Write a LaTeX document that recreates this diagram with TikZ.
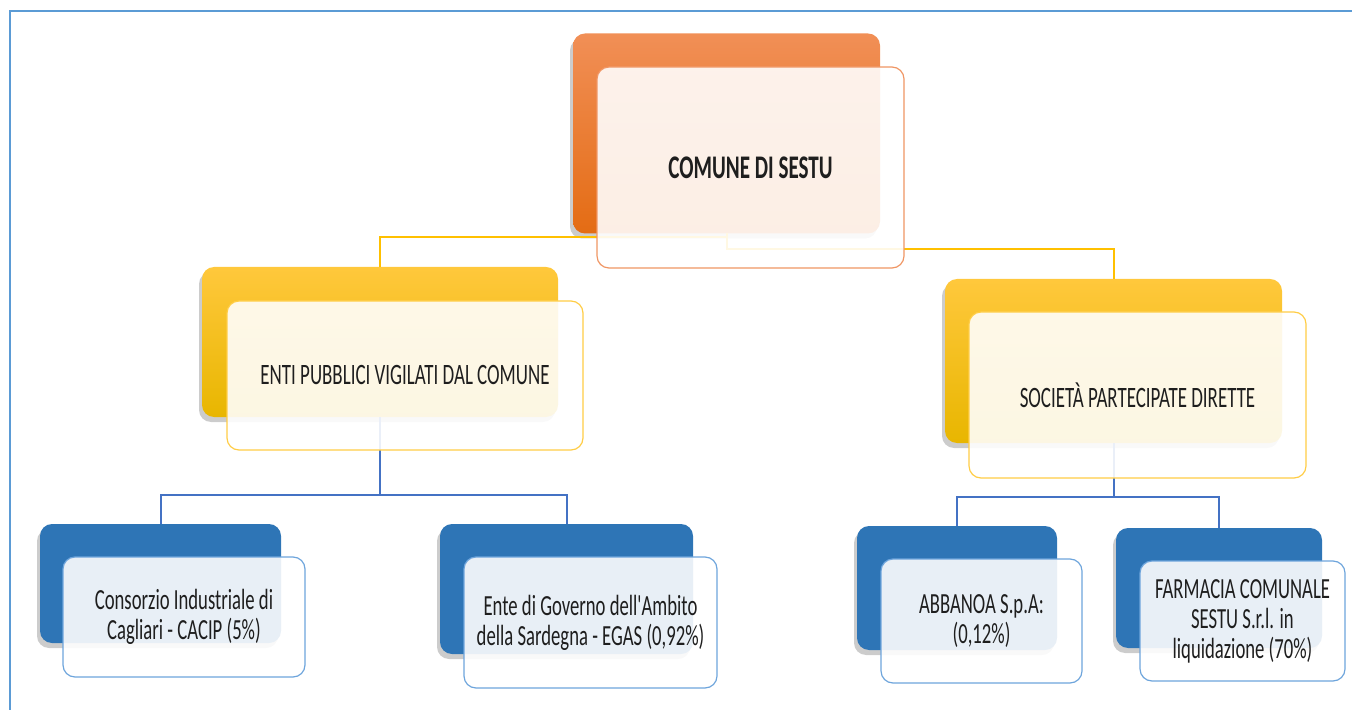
\documentclass[tikz,border=0pt]{standalone}
\usepackage{fontspec}
\newfontfamily\boxfont[FakeStretch=0.64]{Carlito}
\usetikzlibrary{shadows}

\definecolor{frameblue}{RGB}{91,155,213}
\definecolor{linkgold}{RGB}{255,192,0}
\definecolor{linkblue}{RGB}{68,114,196}
\definecolor{orangetop}{RGB}{241,143,86}
\definecolor{orangemid}{RGB}{245,125,35}
\definecolor{orangebot}{RGB}{228,108,20}
\definecolor{orangeline}{RGB}{240,150,100}
\definecolor{goldtop}{RGB}{255,200,60}
\definecolor{goldmid}{RGB}{255,195,0}
\definecolor{goldbot}{RGB}{232,182,0}
\definecolor{goldline}{RGB}{255,205,70}
\definecolor{boxblue}{RGB}{46,117,182}
\definecolor{blueline}{RGB}{110,165,220}
\definecolor{textgray}{RGB}{30,30,30}

\begin{document}
\begin{tikzpicture}[x=0.5pt, y=-0.5pt,
    box/.style={rectangle, rounded corners=6pt, inner sep=0pt, outer sep=0pt},
    backbox/.style={box, drop shadow={shadow xshift=-1.5pt, shadow yshift=-2.5pt, opacity=0.4}},
    orangeback/.style={backbox, top color=orangetop, middle color=orangemid, bottom color=orangebot},
    goldback/.style={backbox, top color=goldtop, middle color=goldmid, bottom color=goldbot},
    blueback/.style={backbox, fill=boxblue},
    frontbox/.style={box, draw=#1, line width=0.6pt, fill=white, fill opacity=0.89,
      text opacity=1, text=textgray, align=center},
    link/.style={line width=1pt, #1}]

    \useasboundingbox (0,0) rectangle (1352,710);

    % frame
    \draw[frameblue, line width=1.2pt] (1352,11) -- (10,11) -- (10,710);

    % back boxes
    \node[orangeback, minimum width=153.5pt, minimum height=100pt] (sestuB) at (726.5,133.5) {};

    \node[goldback, minimum width=178pt, minimum height=75pt] (entiB) at (380,342) {};
    \node[goldback, minimum width=168.5pt, minimum height=82pt] (socB) at (1113.5,361) {};

    \node[blueback, minimum width=120.5pt, minimum height=59.5pt] (cacipB) at (160.5,583.5) {};
    \node[blueback, minimum width=126.5pt, minimum height=65pt] (egasB) at (566.5,589) {};
    \node[blueback, minimum width=100pt, minimum height=62pt] (abbB) at (957,588) {};
    \node[blueback, minimum width=103pt, minimum height=60pt] (farmB) at (1219,588) {};

    % connectors
    \path[draw, link=linkgold] (sestuB.south) -- ++(0,4) -| (entiB.north);
    \path[draw, link=linkgold] (sestuB.south) -- ++(0,16) -| (socB.north);

    \path[draw, link=linkblue] (entiB.south) -- ++(0,78) -| (cacipB.north);
    \path[draw, link=linkblue] (entiB.south) -- ++(0,78) -| (egasB.north);
    \path[draw, link=linkblue] (socB.south) -- ++(0,54) -| (abbB.north);
    \path[draw, link=linkblue] (socB.south) -- ++(0,54) -| (farmB.north);

    % front boxes
    \node[frontbox=orangeline, minimum width=153.5pt, minimum height=100.5pt,
      font=\boxfont\bfseries\fontsize{16.5}{17}\selectfont] (sestu) at (750.5,167.5) {COMUNE DI SESTU};

    \node[frontbox=goldline, minimum width=178pt, minimum height=74.5pt,
      font=\boxfont\fontsize{14.8}{15}\selectfont] (enti) at (405,375.5) {ENTI PUBBLICI VIGILATI DAL COMUNE};
    \node[frontbox=goldline, minimum width=168.5pt, minimum height=83pt,
      font=\boxfont\fontsize{14.8}{15}\selectfont] (soc) at (1137.5,395) {SOCIETÀ PARTECIPATE DIRETTE};

    \node[frontbox=blueline, minimum width=121pt, minimum height=60pt,
      font=\boxfont\fontsize{14.6}{15}\selectfont] (cacip) at (184,617) {Consorzio Industriale di\\Cagliari - CACIP (5\%)};
    \node[frontbox=blueline, minimum width=126.5pt, minimum height=65.5pt,
      font=\boxfont\fontsize{14.6}{15}\selectfont] (egas) at (590.5,622.5) {Ente di Governo dell'Ambito\\della Sardegna - EGAS (0,92\%)};
    \node[frontbox=blueline, minimum width=100.5pt, minimum height=62pt,
      font=\boxfont\fontsize{14.6}{15}\selectfont] (abb) at (981.5,621) {ABBANOA S.p.A:\\(0,12\%)};
    \node[frontbox=blueline, minimum width=102.5pt, minimum height=60pt,
      font=\boxfont\fontsize{14.6}{15}\selectfont] (farm) at (1242.5,621) {FARMACIA COMUNALE\\SESTU S.r.l. in\\liquidazione (70\%)};

  \end{tikzpicture}
\end{document}
